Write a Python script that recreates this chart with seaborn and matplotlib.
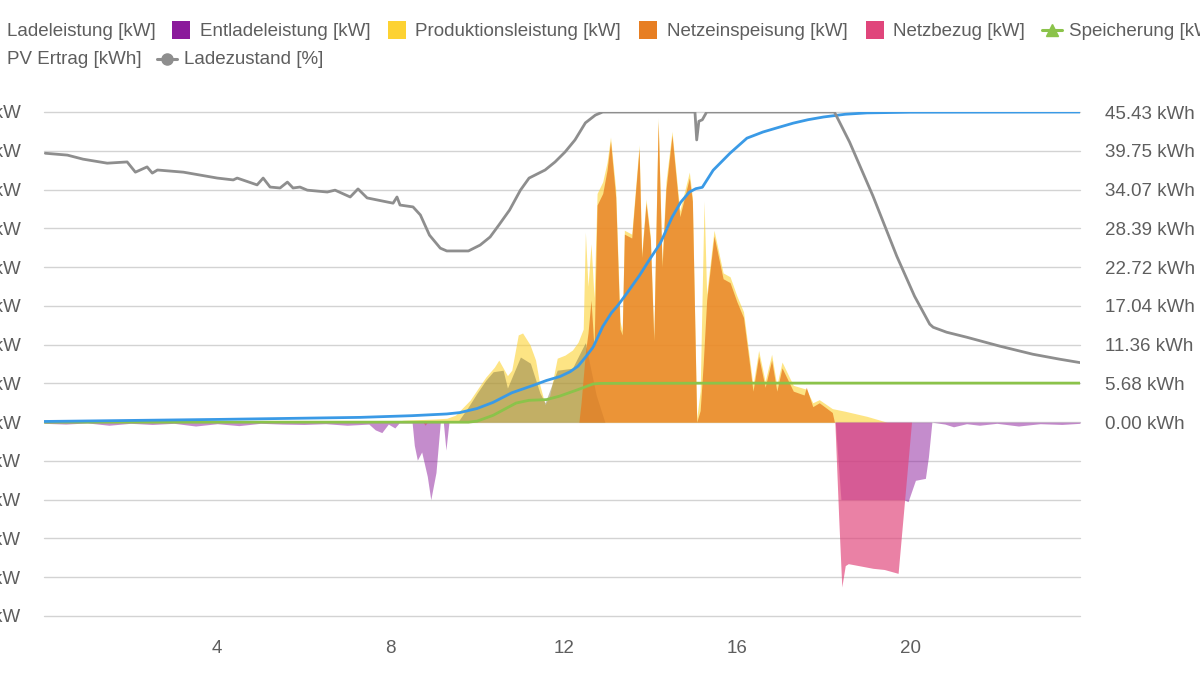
import matplotlib.pyplot as plt
import seaborn as sns
from matplotlib.patches import Rectangle
from matplotlib.lines import Line2D

# --- data (hours of the day, kW / kWh / %) ---
t_prod = [0, 8.0, 8.3, 9.0, 9.3, 9.5, 9.84, 10.07, 10.2, 10.4, 10.5, 10.7, 10.8, 10.95, 11.05,
          11.22, 11.35, 11.45, 11.57, 11.68, 11.85, 12.03, 12.2, 12.33, 12.45, 12.5, 12.56, 12.63,
          12.7, 12.77, 12.9, 13.0, 13.08, 13.2, 13.3, 13.35, 13.4, 13.57, 13.74, 13.8, 13.9, 14.0,
          14.08, 14.18, 14.27, 14.36, 14.5, 14.68, 14.9, 14.97, 15.07, 15.15, 15.24, 15.3, 15.47,
          15.68, 15.84, 16.0, 16.15, 16.37, 16.5, 16.65, 16.8, 16.92, 17.04, 17.3, 17.6, 17.75,
          17.9, 18.2, 18.5, 19.0, 19.46, 23.92]
prod_kw = [0, 0, 0.05, 0.08, 0.1, 0.18, 0.57, 0.95, 1.16, 1.42, 1.6, 1.2, 1.34, 2.25, 2.3,
           2.0, 1.6, 0.95, 0.45, 0.7, 1.65, 1.73, 1.86, 2.06, 2.4, 4.9, 3.5, 4.6,
           3.2, 5.9, 6.2, 6.7, 7.35, 6.0, 2.6, 2.35, 4.95, 4.85, 7.15, 4.35, 5.75, 4.8,
           2.2, 7.85, 4.15, 6.2, 7.5, 5.45, 6.45, 5.8, 0.1, 0.8, 5.7, 3.3, 4.95,
           3.85, 3.75, 3.25, 2.85, 0.95, 1.85, 1.05, 1.75, 0.95, 1.55, 0.95, 0.85, 0.5,
           0.58, 0.35, 0.28, 0.15, 0, 0]

t_feed = [0, 12.35, 12.4, 12.5, 12.56, 12.63, 12.7, 12.77, 12.9, 13.0, 13.08, 13.2, 13.3, 13.35,
          13.4, 13.57, 13.74, 13.8, 13.9, 14.0, 14.08, 14.18, 14.27, 14.36, 14.5, 14.68, 14.9,
          14.97, 15.07, 15.15, 15.22, 15.3, 15.47, 15.68, 15.84, 16.0, 16.15, 16.37, 16.5, 16.65,
          16.8, 16.92, 17.04, 17.3, 17.55, 17.6, 17.75, 17.9, 18.2, 18.25, 23.92]
feed_kw = [0, 0, 0.5, 1.8, 2.3, 3.15, 1.9, 5.6, 5.9, 6.5, 7.25, 5.8, 2.4, 2.25,
           4.85, 4.75, 7.05, 4.25, 5.65, 4.7, 2.1, 7.75, 4.0, 6.0, 7.4, 5.3, 6.3,
           5.7, 0.0, 0.3, 1.5, 3.15, 4.8, 3.7, 3.6, 3.1, 2.7, 0.8, 1.7, 0.9,
           1.6, 0.8, 1.4, 0.8, 0.7, 0.9, 0.4, 0.5, 0.25, 0, 0]

t_charge = [0, 9.55, 9.8, 10.0, 10.2, 10.37, 10.6, 10.7, 11.0, 11.23, 11.45, 11.57, 11.85,
            12.2, 12.43, 12.5, 12.6, 12.75, 12.95, 23.92]
charge_kw = [0, 0, 0.4, 0.75, 1.08, 1.3, 1.34, 0.88, 1.68, 1.52, 0.75, 0.5, 1.34,
             1.39, 1.9, 2.05, 1.5, 0.7, 0, 0]

t_discharge = [0, 0.5, 1.0, 1.5, 2.0, 2.5, 3.0, 3.5, 4.0, 4.5, 5.0, 5.5, 6.0, 6.5, 7.0, 7.5,
               7.65, 7.8, 7.95, 8.1, 8.2, 8.5, 8.55, 8.62, 8.72, 8.85, 8.93, 9.05, 9.15, 9.22,
               9.28, 9.35, 18.27, 18.4, 19.85, 19.95, 20.12, 20.35, 20.42, 20.5, 20.8, 21.0,
               21.3, 21.6, 22.0, 22.5, 23.0, 23.5, 23.92]
discharge_kw = [-0.03, -0.05, -0.02, -0.08, -0.03, -0.06, -0.03, -0.1, -0.04, -0.09, -0.03, -0.05,
                -0.06, -0.04, -0.08, -0.05, -0.2, -0.27, -0.05, -0.15, -0.02, -0.02, -0.6, -0.98,
                -0.77, -1.4, -2.0, -1.3, 0, 0, -0.72, 0, 0, -2.0, -2.0, -2.05, -1.5, -1.45,
                -0.9, 0, -0.05, -0.12, -0.04, -0.08, -0.03, -0.1, -0.04, -0.06, -0.03]

t_import = [0, 8.75, 8.8, 8.85, 18.26, 18.35, 18.42, 18.5, 18.57, 19.14, 19.4, 19.72, 20.03, 23.92]
import_kw = [0, 0, -0.08, 0, 0, -2.5, -4.25, -3.7, -3.65, -3.77, -3.8, -3.9, 0, 0]

t_pv = [0, 4, 7.3, 8.5, 9.3, 9.6, 10.0, 10.37, 10.8, 11.3, 11.6, 11.92, 12.15, 12.33, 12.5,
        12.68, 12.9, 13.1, 13.25, 13.46, 13.75, 14.0, 14.23, 14.5, 14.7, 14.9, 15.05, 15.2,
        15.45, 15.84, 16.23, 16.6, 16.92, 17.3, 17.64, 18.0, 18.5, 19.0, 20.0, 23.92]
pv_kwh = [0.1, 0.4, 0.7, 0.95, 1.2, 1.4, 2.0, 2.9, 4.3, 5.4, 6.1, 6.7, 7.4, 8.2, 9.5,
          11.0, 14.0, 16.0, 17.1, 18.9, 21.5, 24.0, 26.2, 30.0, 32.2, 33.7, 34.2, 34.4,
          36.9, 39.4, 41.6, 42.5, 43.1, 43.8, 44.3, 44.7, 45.1, 45.3, 45.4, 45.43]

t_store = [0, 9.8, 10.0, 10.37, 10.9, 11.2, 11.6, 11.9, 12.3, 12.68, 12.85, 16.0, 23.92]
store_kwh = [0, 0, 0.15, 1.0, 2.8, 3.2, 3.3, 3.8, 4.7, 5.6, 5.68, 5.72, 5.72]

t_soc = [0.03, 0.54, 0.9, 1.46, 1.92, 2.11, 2.38, 2.5, 2.62, 3.22, 4.0, 4.37, 4.46, 4.92, 5.06,
         5.22, 5.45, 5.62, 5.75, 5.91, 6.08, 6.54, 6.72, 7.07, 7.25, 7.46, 8.06, 8.15, 8.22,
         8.52, 8.69, 8.9, 9.15, 9.3, 9.8, 10.07, 10.3, 10.5, 10.75, 11.0, 11.2, 11.57, 11.8,
         12.03, 12.26, 12.5, 12.73, 12.9, 15.03, 15.07, 15.12, 15.2, 15.3, 18.25, 18.6, 19.14,
         19.69, 20.1, 20.45, 20.53, 20.84, 21.3, 22.07, 22.83, 23.45, 23.92]
soc_pct = [86.7, 86.1, 84.8, 83.5, 83.9, 80.6, 82.3, 80.3, 81.3, 80.6, 78.7, 78.1, 78.7, 76.5, 78.7,
           75.8, 75.5, 77.4, 75.5, 75.8, 74.8, 74.2, 74.8, 72.6, 75.2, 72.3, 70.6, 72.6, 70.0,
           69.4, 66.8, 60.3, 56.1, 55.2, 55.2, 57.1, 59.7, 63.5, 68.4, 74.8, 78.7, 81.3, 83.9,
           87.1, 91.0, 96.5, 99.0, 100, 100, 91, 97, 97.5, 100, 100, 90.3, 72.9,
           53.5, 40.6, 31.6, 30.6, 29.0, 27.4, 24.5, 21.9, 20.3, 19.2]

hour_ticks = [4, 8, 12, 16, 20]
kw_ticks = list(range(-5, 9))

# colours
c_charge = "#7A7040"
c_discharge = "#8B1A9B"
c_prod = "#FDD232"
c_feed = "#E77E22"
c_import = "#E0457B"
c_store = "#8BC34A"
c_pv = "#3A9AE6"
c_soc = "#8E8E8E"
c_text = "#5E5E5E"
FS = 13.5

sns.set_theme(style="white")
plt.rcParams['font.family'] = ['Liberation Sans', 'DejaVu Sans']

W, H = 1200, 675
fig = plt.figure(figsize=(12, 6.75), dpi=100)
# plot area in pixels: x 44..1080, y 112..616
ax = fig.add_axes([44 / W, 1 - 616 / H, (1080 - 44) / W, (616 - 112) / H])
ax_kwh = ax.twinx()
ax_soc = ax.twinx()

# align zero and the top gridline on all three scales
lo, hi = kw_ticks[0], kw_ticks[-1]
kwh_step = max(pv_kwh) / hi
ax.set_ylim(lo, hi)
ax_kwh.set_ylim(lo * kwh_step, hi * kwh_step)
ax_soc.set_ylim(lo * 100 / hi, 100)

# areas
ax.fill_between(t_prod, prod_kw, 0, color=c_prod, alpha=0.6, lw=0, zorder=2)
ax.fill_between(t_charge, charge_kw, 0, color=c_charge, alpha=0.45, lw=0, zorder=3)
ax.fill_between(t_feed, feed_kw, 0, color=c_feed, alpha=0.78, lw=0, zorder=4)
ax.fill_between(t_discharge, discharge_kw, 0, color=c_discharge, alpha=0.5, lw=0, zorder=3)
ax.fill_between(t_import, import_kw, 0, color=c_import, alpha=0.68, lw=0, zorder=4)

# lines
sns.lineplot(x=t_soc, y=soc_pct, ax=ax_soc, color=c_soc, linewidth=2.0)
sns.lineplot(x=t_store, y=store_kwh, ax=ax_kwh, color=c_store, linewidth=2.0)
sns.lineplot(x=t_pv, y=pv_kwh, ax=ax_kwh, color=c_pv, linewidth=2.0)

ax.set_xlim(0, 23.92)
ax.set_xticks(hour_ticks)
ax.set_xticklabels([str(h) for h in hour_ticks])
ax.set_yticks(kw_ticks)
ax.set_yticklabels([f"{v} kW" for v in kw_ticks])
ax.grid(axis='y', color='#D3D3D3', linewidth=1.0, zorder=0)
ax.grid(axis='x', visible=False)
for gl in ax.get_ygridlines():
    gl.set_clip_on(False)
ax.tick_params(axis='y', length=0, pad=17, labelsize=FS, labelcolor=c_text)
ax.tick_params(axis='x', length=0, pad=17, labelsize=FS, labelcolor=c_text)

kwh_ticks = [i * kwh_step for i in range(hi + 1)]
ax_kwh.set_yticks(kwh_ticks)
ax_kwh.set_yticklabels([f"{v + 1e-6:.2f} kWh" for v in kwh_ticks])
ax_kwh.tick_params(axis='y', length=0, pad=18, labelsize=FS, labelcolor=c_text)
ax_soc.set_yticks([])

for a in (ax, ax_kwh, ax_soc):
    a.set_xlabel("")
    a.set_ylabel("")
    for s in a.spines.values():
        s.set_visible(False)


# --- legend (two rows, clipped at the canvas edges like the original) ---
def box(x, y, color, label, tx):
    fig.add_artist(Rectangle((x / W, 1 - (y + 9) / H), 18 / W, 18 / H,
                             transform=fig.transFigure, color=color, lw=0))
    fig.text(tx / W, 1 - (y + 1) / H, label, ha='left', va='center', fontsize=FS, color=c_text)


def line(x, y, color, marker, label, tx):
    fig.add_artist(Line2D([x / W, (x + 10) / W, (x + 20) / W], [1 - y / H] * 3,
                          transform=fig.transFigure, color=color, lw=2.2,
                          marker=marker, markersize=8, markevery=[1]))
    fig.text(tx / W, 1 - (y + 1) / H, label, ha='left', va='center', fontsize=FS, color=c_text)


box(-21, 30, c_charge, "Ladeleistung [kW]", 7)
box(172, 30, c_discharge, "Entladeleistung [kW]", 200)
box(388, 30, c_prod, "Produktionsleistung [kW]", 415)
box(639, 30, c_feed, "Netzeinspeisung [kW]", 667)
box(866, 30, c_import, "Netzbezug [kW]", 893)
line(1042, 30, c_store, '^', "Speicherung [kWh]", 1069)
line(-28, 59, c_pv, 'o', "PV Ertrag [kWh]", 7)
line(157, 59, c_soc, 'o', "Ladezustand [%]", 184)

plt.savefig("out.png", dpi=100)
